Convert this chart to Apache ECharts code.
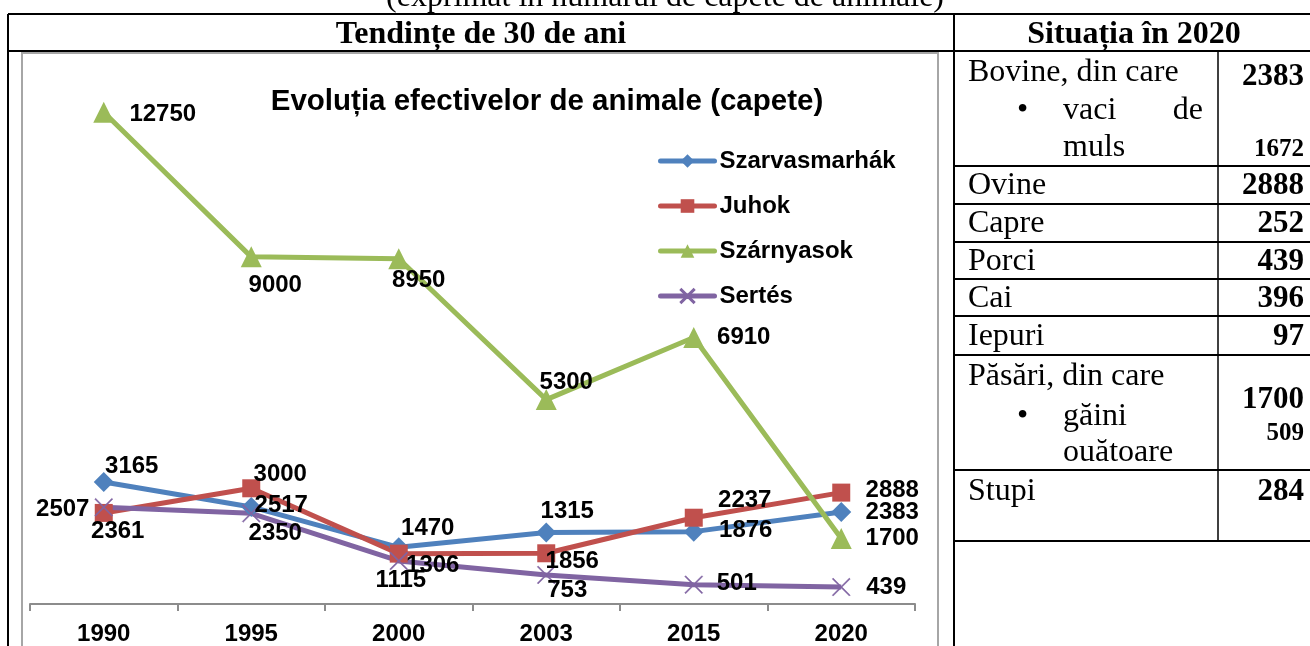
<!DOCTYPE html>
<html>
<head>
<meta charset="utf-8">
<script src="https://cdn.jsdelivr.net/npm/echarts@6/dist/echarts.min.js"></script>
<style>
  html, body { margin: 0; padding: 0; background: #fff; }
  #chart { width: 1310px; height: 646px; }
</style>
</head>
<body>
<div id="chart"></div>
<script>
// date
const years = ['1990', '1995', '2000', '2003', '2015', '2020'];
const szarvasmarhak = [3165, 2517, 1470, 1856, 1876, 2383];
const juhok = [2361, 3000, 1306, 1315, 2237, 2888];
const szarnyasok = [12750, 9000, 8950, 5300, 6910, 1700];
const sertes = [2507, 2350, 1115, 753, 501, 439];
// etichetele afisate (la 2003 sunt inversate in original)
const szarvasmarhakLabels = [3165, 2517, 1470, 1315, 1876, 2383];
const juhokLabels = [2361, 3000, 1306, 1856, 2237, 2888];

// tabelul din dreapta
const tableNames = ['Ovine', 'Capre', 'Porci', 'Cai', 'Iepuri'];
const tableValues = [2888, 252, 439, 396, 97];
const bovine = 2383, vaciMuls = 1672;
const pasari = 1700, gainiOuatoare = 509;
const stupi = 284;

const SERIF = '"Liberation Serif", "Times New Roman", serif';
const SANS = '"Liberation Sans", Arial, sans-serif';

// pozitiile etichetelor fata de punct
const offBlue = [[28, -16], [30, -2], [29, -19], [21, -21], [52, -1], [51, 0]];
const offRed = [[14, 18], [29, -14], [34, 12], [26, 8], [51, -17], [51, -2]];
const offGreen = [[59, 2], [24, 29], [20, 22], [20, -17], [50, 0], [51, 0]];
const offPurple = [[-41, 2], [24, 20], [2, 19], [21, 15], [43, -1], [45, 0]];

const crossPath = 'path://M1,0L10,9L19,0L20,1L11,10L20,19L19,20L10,11L1,20L0,19L9,10L0,1Z';

function mkSeries(name, values, labels, offs, color, symbol, size) {
  return {
    name: name,
    type: 'line',
    data: values.map((v, i) => ({
      value: v,
      label: { offset: offs[i], formatter: String(labels[i]) }
    })),
    symbol: symbol,
    symbolSize: size,
    color: color,
    lineStyle: { width: 5, color: color },
    itemStyle: { color: color, borderWidth: symbol === crossPath ? 0.5 : 0, borderColor: color },
    label: {
      show: true,
      position: 'inside',
      color: '#000',
      fontFamily: SANS,
      fontWeight: 'bold',
      fontSize: 24
    },
    emphasis: { disabled: true },
    animation: false
  };
}

const graphics = [];
function line(x1, y1, x2, y2, w, c) {
  graphics.push({ type: 'line', shape: { x1, y1, x2, y2 }, style: { stroke: c || '#000', lineWidth: w || 2 }, silent: true });
}
function txt(x, y, t, o) {
  o = o || {};
  graphics.push({
    type: 'text', x: x, y: y + 2, silent: true,
    style: {
      text: t, fill: '#000',
      font: (o.bold ? 'bold ' : '') + (o.size || 32) + 'px ' + SERIF,
      textAlign: o.align || 'left', textVerticalAlign: 'middle'
    }
  });
}

// chenarul graficului
graphics.push({ type: 'rect', shape: { x: 22, y: 53, width: 916, height: 600 }, style: { fill: 'none', stroke: '#a6a6a6', lineWidth: 2 }, silent: true });

// liniile tabelului
line(8, 14, 1310, 14);
line(8, 14, 8, 646);
line(8, 51, 1310, 51);
line(954, 14, 954, 646);
line(1218, 51, 1218, 541, 1.5);
[166, 204, 242, 279, 316, 355, 470, 541].forEach(y => line(954, y, 1310, y));

// texte
txt(665, -4, '(exprimat în numărul de capete de animale)', { align: 'center' });
txt(481, 33, 'Tendințe de 30 de ani', { bold: true, align: 'center' });
txt(1134, 33, 'Situația în 2020', { bold: true, align: 'center' });

txt(968, 71, 'Bovine, din care');
txt(1017, 109, '•');
txt(1063, 109, 'vaci');
txt(1203, 109, 'de', { align: 'right' });
txt(1063, 146, 'muls');
txt(1304, 75, String(bovine), { bold: true, align: 'right', size: 31 });
txt(1304, 148, String(vaciMuls), { bold: true, align: 'right', size: 25 });

const rowMid = [184, 222, 259.5, 296.5, 334.5];
tableNames.forEach((n, i) => {
  txt(968, rowMid[i], n);
  txt(1304, rowMid[i], String(tableValues[i]), { bold: true, align: 'right', size: 31 });
});

txt(968, 375, 'Păsări, din care');
txt(1017, 415, '•');
txt(1063, 415, 'găini');
txt(1063, 451, 'ouătoare');
txt(1304, 398, String(pasari), { bold: true, align: 'right', size: 31 });
txt(1304, 432, String(gainiOuatoare), { bold: true, align: 'right', size: 25 });

txt(968, 490, 'Stupi');
txt(1304, 490, String(stupi), { bold: true, align: 'right', size: 31 });

const chart = echarts.init(document.getElementById('chart'));
chart.setOption({
  backgroundColor: '#fff',
  animation: false,
  title: {
    text: 'Evoluția efectivelor de animale (capete)',
    left: 542, top: 82,
    textAlign: 'center',
    textStyle: { fontFamily: SANS, fontWeight: 'bold', fontSize: 29.5, color: '#000' }
  },
  legend: {
    orient: 'vertical',
    left: 658, top: 149,
    padding: 0,
    itemWidth: 54, itemHeight: 17, itemGap: 21,
    lineStyle: { width: 5, cap: 'round' },
    textStyle: { fontFamily: SANS, fontWeight: 'bold', fontSize: 24, color: '#000' },
    data: ['Szarvasmarhák', 'Juhok', 'Szárnyasok', 'Sertés']
  },
  grid: { left: 30, right: 395, top: 64, bottom: 41, containLabel: false },
  xAxis: {
    type: 'category',
    data: years,
    boundaryGap: true,
    axisLine: { lineStyle: { color: '#8c8c8c', width: 2 } },
    axisTick: { show: true, length: 7, lineStyle: { color: '#8c8c8c', width: 2 } },
    axisLabel: { margin: 18, color: '#000', fontFamily: SANS, fontWeight: 'bold', fontSize: 24 }
  },
  yAxis: {
    type: 'value', min: 0, max: 14000, show: false,
    splitLine: { show: false }
  },
  series: [
    mkSeries('Szarvasmarhák', szarvasmarhak, szarvasmarhakLabels, offBlue, '#4F81BD', 'diamond', 20),
    mkSeries('Juhok', juhok, juhokLabels, offRed, '#C0504D', 'rect', 18),
    mkSeries('Szárnyasok', szarnyasok, szarnyasok, offGreen, '#9BBB59', 'triangle', 21),
    mkSeries('Sertés', sertes, sertes, offPurple, '#8064A2', crossPath, 18)
  ],
  graphic: graphics
});
window.onresize = function () {
  chart.resize();
};
</script>
</body>
</html>
